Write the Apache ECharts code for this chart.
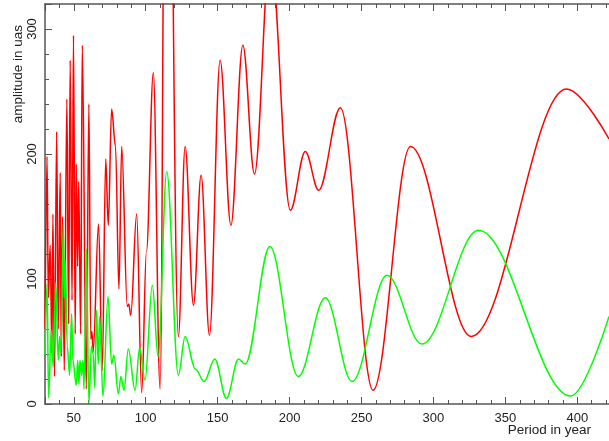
<!DOCTYPE html>
<html>
<head>
<meta charset="utf-8">
<script src="https://cdn.jsdelivr.net/npm/echarts@6/dist/echarts.min.js"></script>
<style>
  html, body { margin: 0; padding: 0; background: #fff; }
  #chart { width: 609px; height: 441px; }
</style>
</head>
<body>
<div id="chart"></div>
<script>
// Extrema (period in year, amplitude in uas)
var redPeriod = [30, 31.4, 32.3, 33.6, 34.8, 35.5, 36.6, 38.1, 39.2, 40.6, 41.3, 42.2, 43.4, 45.2, 46.4, 47.5, 48.8, 49.8, 51.0, 51.7, 52.7, 53.4, 54.8, 55.9, 58.7, 60.5, 61.8, 62.6, 63.5, 67.2, 69.8, 72.2, 74.0, 76.3, 79.0, 81.4, 83.3, 87.2, 88.2, 89.6, 93.7, 97.2, 100.5, 105.3, 110.0, 114.5, 122.7, 127.4, 133.2, 138.5, 144.3, 151.7, 159.2, 167.5, 175.6, 186.5, 200.5, 210.9, 220.2, 235.3, 258.0, 284.0, 326.2, 392.4, 422];
var redAmp    = [60, 198, 85, 127, 41, 152, 22, 218, 60, 185, 38, 150, 27, 244, 64, 275, 83, 295, 56, 192, 110, 178, 56, 287, 12, 240, 52, 58, 42, 144, 27, 196, 143, 236, 206, 92, 206, 78, 80, 71, 152, 9, 122, 265, 12, 720, 54, 206, 79, 183, 55, 275, 143, 287, 184, 362, 155, 202, 171, 237, 11, 206, 54, 252, 212];

var greenPeriod = [30, 31.4, 32.5, 34.3, 35.7, 37.5, 39.2, 40.2, 41.2, 42.7, 43.4, 44.0, 45.5, 47.1, 48.5, 49.4, 51.7, 52.7, 53.6, 54.3, 55.4, 56.4, 57.1, 58.8, 60.5, 62.3, 63.5, 64.6, 65.8, 67.0, 68.0, 70.3, 73.8, 76.3, 77.9, 81.0, 82.8, 84.9, 87.9, 92.6, 95.8, 99.5, 104.6, 108.6, 114.6, 122.7, 127.4, 134.5, 140.6, 148.0, 156.1, 164.5, 169.1, 186.3, 206.0, 224.8, 243.4, 267.7, 291.9, 331.3, 395.4, 422];
var greenAmp    = [39, 96, 5, 59, 30, 97, 35, 54, 40, 144, 85, 115, 46, 23, 72, 35, 15, 35, 16, 35, 23, 35, 12, 124, 1, 46, 40, 13, 75, 32, 70, 6, 86, 32, 39, 8, 22, 11, 44, 11, 45, 19, 95, 38, 186, 23, 54, 28, 18, 36, 4.5, 36, 32, 126, 22, 85, 18, 103, 48, 139, 6.4, 70];

var xMin = 30, xMax = 422, yMin = 0, yMax = 320;

function zip(a, b) { return a.map(function (v, i) { return [v, b[i]]; }); }

var axisColor = '#555';
var labelFont = { fontFamily: 'Liberation Sans', fontSize: 13, color: '#222' };

var chart = echarts.init(document.getElementById('chart'), null, { renderer: 'canvas' });
chart.setOption({
  animation: false,
  backgroundColor: '#fff',
  grid: { left: 45, top: 4, right: 0, bottom: 37, containLabel: false },
  xAxis: [{
    type: 'value', min: xMin, max: xMax, splitNumber: 8, position: 'bottom',
    axisLine: { show: true, lineStyle: { color: axisColor, width: 1.5 } },
    axisTick: { show: true, inside: true, length: 7, lineStyle: { color: axisColor, width: 1 } },
    minorTick: { show: true, splitNumber: 5, length: 4, lineStyle: { color: axisColor, width: 1 } },
    axisLabel: Object.assign({ margin: 8, showMinLabel: false, showMaxLabel: false }, labelFont),
    splitLine: { show: false }
  }, {
    type: 'value', min: xMin, max: xMax, splitNumber: 8, position: 'top',
    axisLine: { show: true, lineStyle: { color: axisColor, width: 1.5 } },
    axisTick: { show: true, inside: true, length: 7, lineStyle: { color: axisColor, width: 1 } },
    minorTick: { show: true, splitNumber: 5, length: 4, lineStyle: { color: axisColor, width: 1 } },
    axisLabel: { show: false },
    splitLine: { show: false }
  }],
  yAxis: [{
    type: 'value', min: yMin, max: yMax, interval: 100,
    axisLine: { show: true, lineStyle: { color: axisColor, width: 1.5 } },
    axisTick: { show: true, inside: true, length: 7, lineStyle: { color: axisColor, width: 1 } },
    minorTick: { show: true, splitNumber: 5, length: 4, lineStyle: { color: axisColor, width: 1 } },
    axisLabel: Object.assign({ margin: 6, rotate: 90, showMaxLabel: false }, labelFont),
    splitLine: { show: false }
  }],
  graphic: [
    { type: 'text', left: 11, top: 25, rotation: Math.PI / 2,
      style: { text: 'amplitude in uas', font: '13.5px "Liberation Sans"', fill: '#222' } },
    { type: 'text', right: 18, top: 423,
      style: { text: 'Period in year', font: '13.5px "Liberation Sans"', fill: '#222' } }
  ],
  series: [{
    type: 'line', name: 'red', xAxisIndex: 0, yAxisIndex: 0,
    data: zip(redPeriod, redAmp),
    showSymbol: false, smooth: 0.36, smoothMonotone: 'x', clip: true,
    lineStyle: { color: '#ff0000', width: 1.5 }, itemStyle: { color: '#ff0000' }
  }, {
    type: 'line', name: 'green', xAxisIndex: 0, yAxisIndex: 0,
    data: zip(greenPeriod, greenAmp),
    showSymbol: false, smooth: 0.36, smoothMonotone: 'x', clip: true,
    lineStyle: { color: '#00ff00', width: 1.5 }, itemStyle: { color: '#00ff00' }
  }]
});
</script>
</body>
</html>
